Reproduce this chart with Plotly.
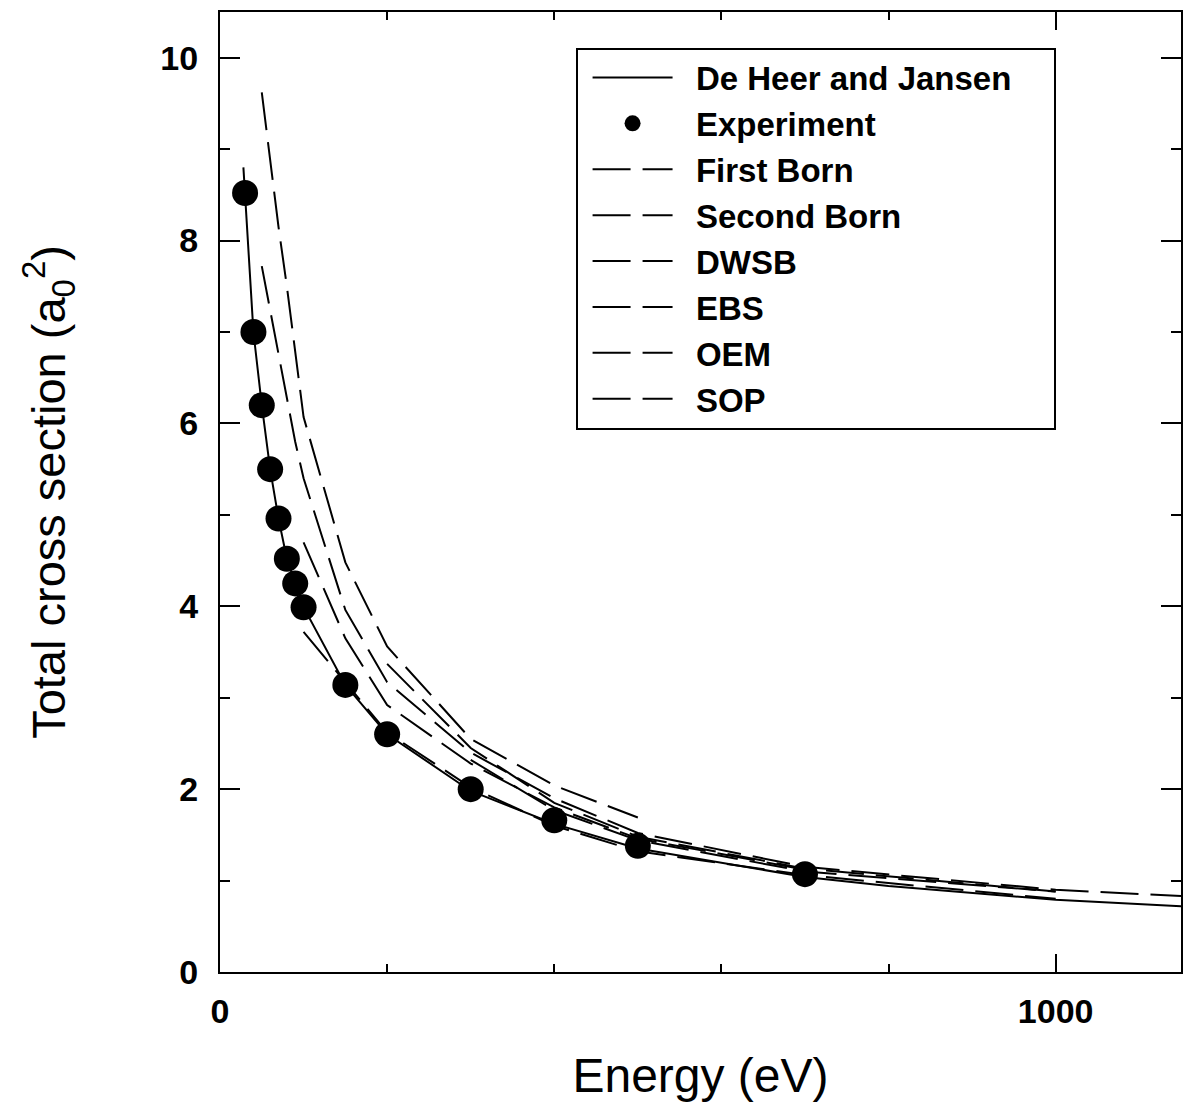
import plotly.graph_objects as go

# ---------------- data ----------------
dhj_x = [28, 30, 40, 50, 60, 70, 80, 90, 100, 150, 200, 300, 400, 500, 700, 800, 1000, 1150]
dhj_y = [8.8, 8.52, 7.0, 6.2, 5.5, 4.96, 4.52, 4.25, 3.99, 3.14, 2.6, 1.98, 1.62, 1.35, 1.04, 0.94, 0.79, 0.72]

exp_x = [30, 40, 50, 60, 70, 80, 90, 100, 150, 200, 300, 400, 500, 700]
exp_y = [8.52, 7.0, 6.2, 5.5, 4.96, 4.52, 4.25, 3.99, 3.14, 2.6, 2.0, 1.66, 1.38, 1.07]

fb_x = [50, 60, 70, 80, 90, 100, 150, 200, 300, 400, 500]
fb_y = [9.62, 8.88, 8.15, 7.5, 6.8, 6.07, 4.48, 3.56, 2.55, 2.04, 1.69]

sb_x = [50, 60, 70, 80, 90, 100, 150, 200, 300, 400, 500, 700, 1000, 1150]
sb_y = [7.72, 7.25, 6.77, 6.3, 5.8, 5.4, 3.96, 3.17, 2.4, 1.90, 1.52, 1.15, 0.90, 0.83]

dwsb_x = [100, 150, 200, 300, 400, 500, 700]
dwsb_y = [4.70, 3.65, 2.92, 2.28, 1.80, 1.46, 1.12]

ebs_x = [200, 300, 400, 500, 700, 1000]
ebs_y = [3.37, 2.45, 1.85, 1.48, 1.13, 0.88]

oem_x = [300, 400, 500, 700, 1000]
oem_y = [2.32, 1.77, 1.44, 1.10, 0.88]

sop_x = [100, 150, 200, 300, 400, 500, 700, 1000]
sop_y = [3.72, 3.17, 2.62, 2.02, 1.60, 1.32, 1.06, 0.80]

x_ticks = [0, 1000]
y_ticks = [0, 2, 4, 6, 8, 10]

# ---------------- figure ----------------
FONT = "Liberation Sans, Arial, Helvetica, sans-serif"
DASH = "38px,12px"
NB = "\u00a0"


def label(s, trail=0):
    return NB * 2 + s + NB * trail


fig = go.Figure()
fig.add_trace(go.Scatter(x=dhj_x, y=dhj_y, mode="lines", name=label("De Heer and Jansen", 4),
                         line=dict(color="black", width=2)))
fig.add_trace(go.Scatter(x=exp_x, y=exp_y, mode="markers", name=label("Experiment"),
                         marker=dict(color="black", size=26, symbol="circle")))
for nm, xs, ys in [("First Born", fb_x, fb_y), ("Second Born", sb_x, sb_y),
                   ("DWSB", dwsb_x, dwsb_y), ("EBS", ebs_x, ebs_y),
                   ("OEM", oem_x, oem_y), ("SOP", sop_x, sop_y)]:
    fig.add_trace(go.Scatter(x=xs, y=ys, mode="lines", name=label(nm),
                             line=dict(color="black", width=2, dash=DASH)))

fig.update_layout(
    width=1184, height=1105,
    margin=dict(l=220, r=1, t=12, b=133),
    paper_bgcolor="white", plot_bgcolor="white",
    font=dict(family=FONT, color="black"),
    showlegend=True,
    legend=dict(x=0.37, y=0.963, xanchor="left", yanchor="top",
                bgcolor="white", bordercolor="black", borderwidth=2,
                font=dict(size=33, family=FONT, color="black", weight="bold"),
                itemwidth=80, tracegroupgap=0, indentation=10),
)
fig.update_xaxes(
    range=[0, 1150], tickmode="array", tickvals=x_ticks,
    ticks="inside", ticklen=18, tickwidth=2, tickcolor="black",
    minor=dict(dtick=200, tick0=0, ticks="inside", ticklen=8, tickwidth=2, tickcolor="black"),
    showline=True, linewidth=2, linecolor="black", mirror="allticks",
    showgrid=False, zeroline=False,
    tickfont=dict(size=34, family=FONT, weight="bold"), ticklabelstandoff=8,
    title=dict(text="Energy (eV)", font=dict(size=48, family=FONT), standoff=30),
)
fig.update_yaxes(
    range=[0, 10.5], tickmode="array", tickvals=y_ticks,
    ticks="inside", ticklen=20, tickwidth=2, tickcolor="black",
    minor=dict(dtick=1, tick0=0, ticks="inside", ticklen=10, tickwidth=2, tickcolor="black"),
    showline=True, linewidth=2, linecolor="black", mirror="allticks",
    showgrid=False, zeroline=False,
    tickfont=dict(size=34, family=FONT, weight="bold"), ticklabelstandoff=13,
    title=dict(text="Total cross section (a<sub>0</sub><sup>2</sup>)",
               font=dict(size=47, family=FONT), standoff=80),
)

fig.write_html("out.html")
